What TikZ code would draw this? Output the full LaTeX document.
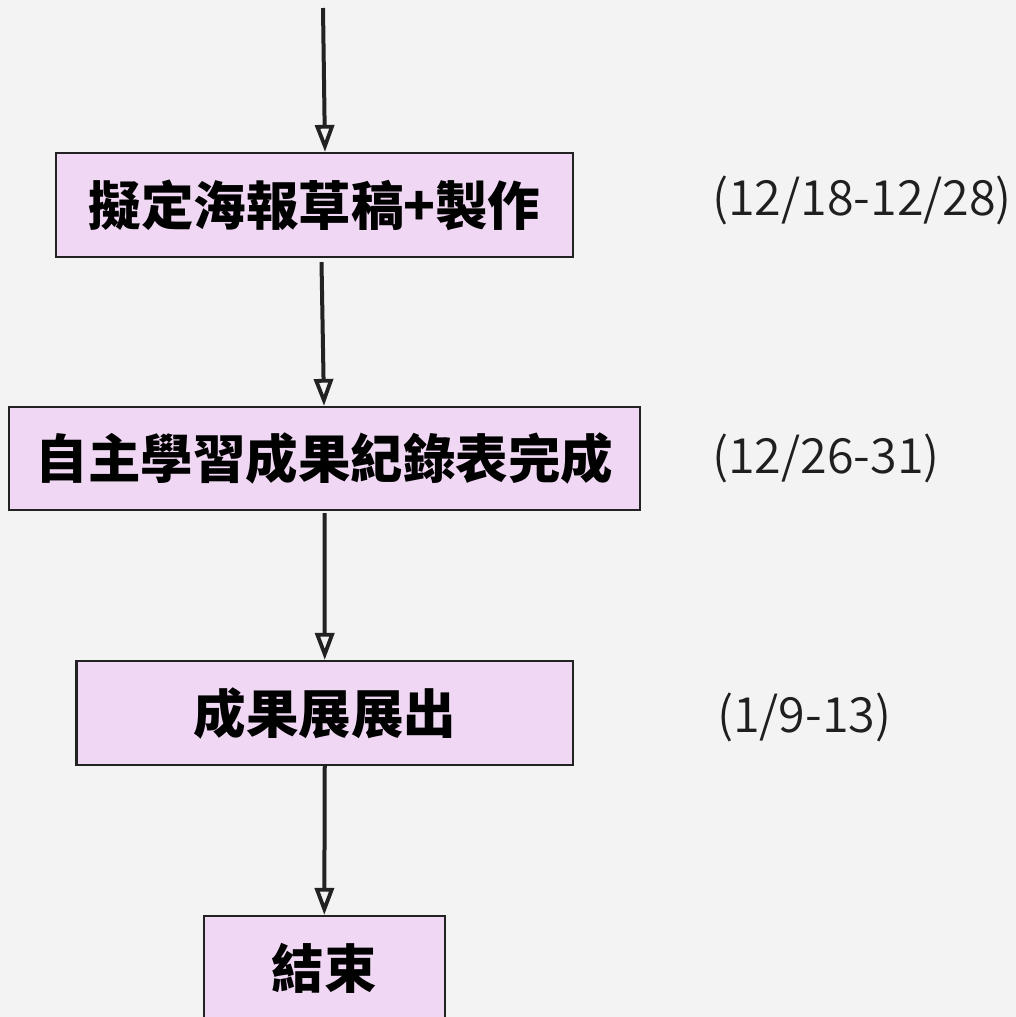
\documentclass[tikz,border=0pt]{standalone}
\usepackage{fontspec}
\usetikzlibrary{arrows.meta}
\newfontfamily\boxfont{Noto Sans CJK TC Black}
\newfontfamily\datefont{Noto Sans CJK TC DemiLight}
\definecolor{bgcol}{HTML}{F3F3F3}
\definecolor{boxfill}{HTML}{F0D7F3}
\definecolor{linecol}{HTML}{222222}
\tikzset{
  stepbox/.style={draw=linecol, line width=2.2pt, fill=boxfill, rectangle, inner sep=0pt,
    font=\boxfont\fontsize{52.5}{56}\selectfont, text=black},
  datelabel/.style={anchor=west, inner sep=0pt, font=\datefont\fontsize{48.5}{52}\selectfont, text=black!88},
  flow/.style={draw=linecol, line width=4pt, -{Triangle[open, length=27pt, width=19pt, line width=3.8pt]}}
}
\begin{document}
\begin{tikzpicture}[x=1pt, y=-1pt]
\useasboundingbox (0,0) rectangle (1016,1017);
\fill[bgcol] (0,0) rectangle (1016,1017);
\clip (0,0) rectangle (1016,1017);

\node[stepbox, minimum width=517pt, minimum height=104pt] (b1) at (314.5,205) {擬定海報草稿+製作};
\node[stepbox, minimum width=631pt, minimum height=103pt] (b2) at (324.5,458.5) {自主學習成果紀錄表完成};
\node[stepbox, minimum width=496.5pt, minimum height=104pt] (b3) at (324.75,713) {成果展展出};
\node[stepbox, minimum width=241.4pt, minimum height=104pt] (b4) at (324.3,968) {結束};

\node[datelabel] (d1) at (712,200) {(12/18-12/28)};
\node[datelabel] (d2) at (712,458) {(12/26-31)};
\node[datelabel] (d3) at (717,717) {(1/9-13)};

\coordinate (top) at (323,8);
\draw[flow] (top) -- ([xshift=10.5pt]b1.north);
\draw[flow] ([shift={(7pt,-4pt)}]b1.south) -- ([xshift=-0.5pt]b2.north);
\draw[flow] ([yshift=-2pt]b2.south) -- (b3.north);
\draw[flow] (b3.south) -- (b4.north);
\end{tikzpicture}
\end{document}
